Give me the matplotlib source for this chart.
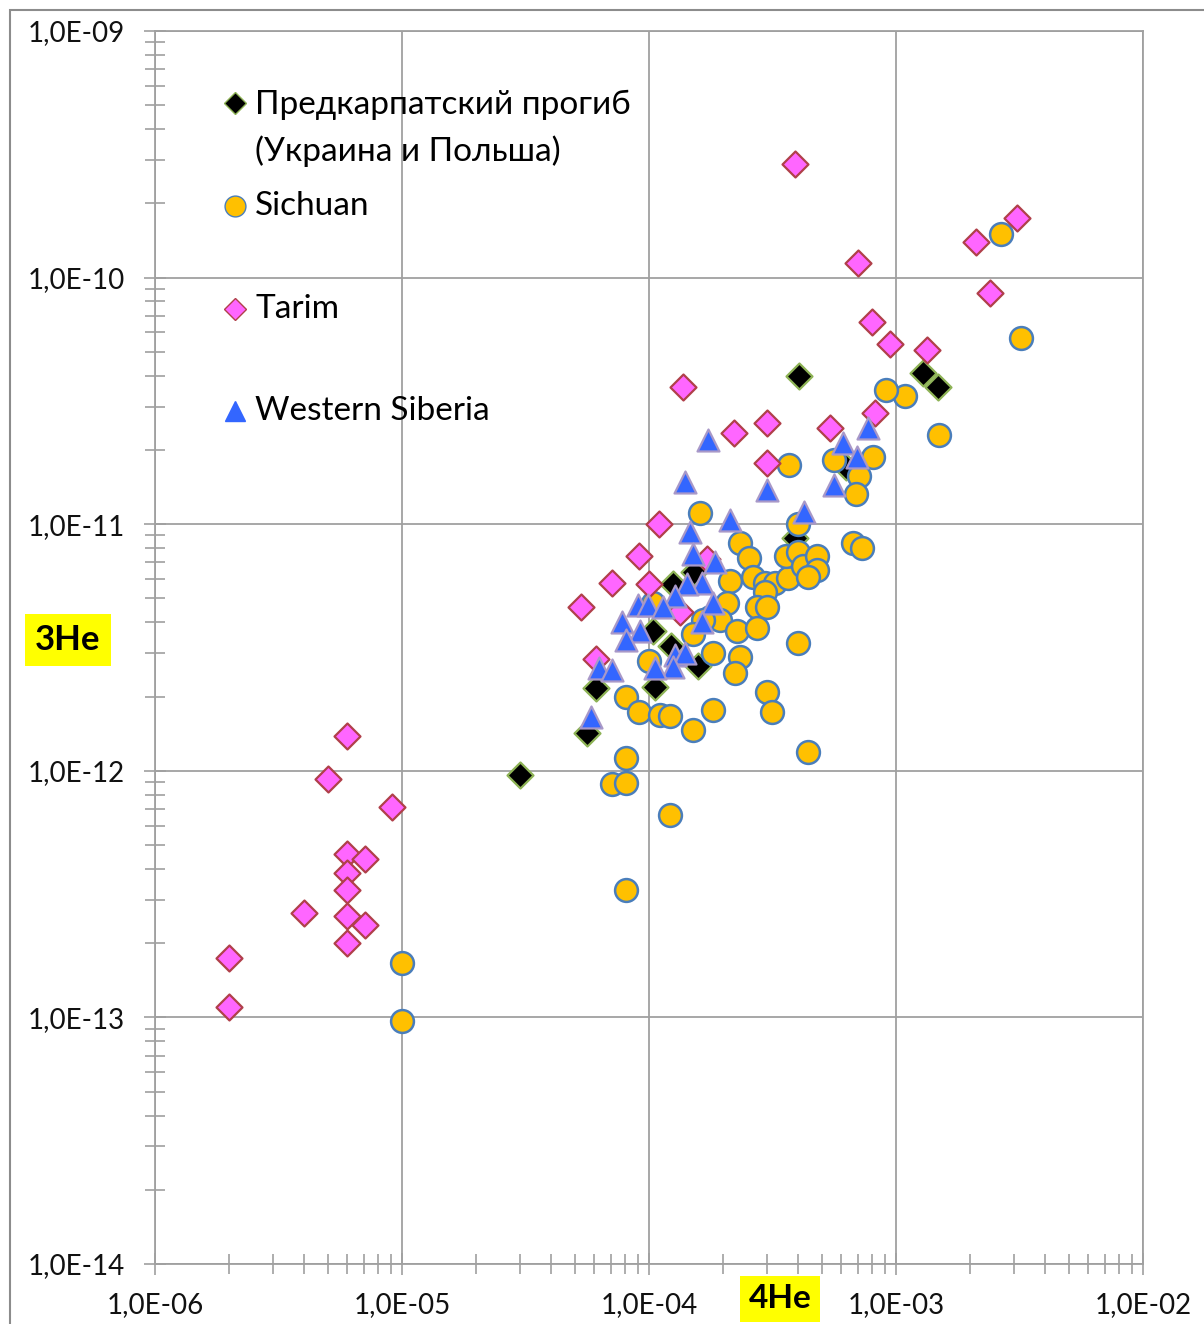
import matplotlib
matplotlib.use("Agg")
import matplotlib.pyplot as plt
from matplotlib.ticker import FixedLocator, FuncFormatter, NullFormatter
from matplotlib.patches import Rectangle
import numpy as np

plt.rcParams['font.family'] = ['Lato', 'DejaVu Sans']

# ---- data: 4He (x) and 3He (y) concentrations ----
carp_he4 = [4.05e-4, 1.29e-3, 1.48e-3, 6.3e-4, 3.9e-4, 1.52e-4, 1.25e-4, 1.04e-4,
            1.23e-4, 1.58e-4, 6.1e-5, 1.06e-4, 5.6e-5, 3.0e-5]
carp_he3 = [4.0e-11, 4.1e-11, 3.6e-11, 1.71e-11, 8.8e-12, 6.4e-12, 5.7e-12, 3.7e-12,
            3.2e-12, 2.66e-12, 2.17e-12, 2.19e-12, 1.42e-12, 9.6e-13]

sichuan_he4 = [2.66e-3, 3.2e-3, 1.09e-3, 9.1e-4, 1.5e-3, 8.1e-4, 7.1e-4, 6.9e-4,
               5.6e-4, 3.7e-4, 1.61e-4, 4.0e-4, 6.7e-4, 7.3e-4, 2.34e-4, 2.54e-4,
               2.13e-4, 2.64e-4, 2.95e-4, 3.24e-4, 3.65e-4, 3.6e-4, 4.0e-4, 4.2e-4,
               4.8e-4, 4.8e-4, 4.4e-4, 2.95e-4, 2.07e-4, 2.74e-4, 3.0e-4, 1.77e-4,
               1.94e-4, 1.65e-4, 2.27e-4, 2.74e-4, 1.51e-4, 1.82e-4, 2.34e-4, 2.23e-4,
               4.0e-4, 1.0e-4, 1.04e-4, 8.1e-5, 9.1e-5, 1.11e-4, 1.22e-4, 1.82e-4,
               1.51e-4, 3.0e-4, 3.15e-4, 4.4e-4, 8.1e-5, 7.1e-5, 8.1e-5, 1.22e-4,
               8.1e-5, 1.0e-5, 1.0e-5]
sichuan_he3 = [1.5e-10, 5.7e-11, 3.3e-11, 3.5e-11, 2.3e-11, 1.87e-11, 1.57e-11, 1.33e-11,
               1.82e-11, 1.74e-11, 1.11e-11, 1.0e-11, 8.4e-12, 8.0e-12, 8.4e-12, 7.3e-12,
               5.9e-12, 6.1e-12, 5.8e-12, 5.8e-12, 6.05e-12, 7.4e-12, 7.7e-12, 6.8e-12,
               7.4e-12, 6.5e-12, 6.1e-12, 5.3e-12, 4.8e-12, 4.6e-12, 4.6e-12, 4.2e-12,
               4.1e-12, 4.1e-12, 3.7e-12, 3.8e-12, 3.6e-12, 3.0e-12, 2.9e-12, 2.5e-12,
               3.3e-12, 2.8e-12, 4.8e-12, 2.0e-12, 1.73e-12, 1.68e-12, 1.67e-12, 1.76e-12,
               1.46e-12, 2.09e-12, 1.73e-12, 1.19e-12, 1.13e-12, 8.8e-13, 8.9e-13, 6.6e-13,
               3.3e-13, 1.66e-13, 9.7e-14]

tarim_he4 = [3.9e-4, 7.0e-4, 2.1e-3, 3.1e-3, 2.4e-3, 8.0e-4, 9.5e-4, 1.34e-3,
             1.37e-4, 2.2e-4, 3.0e-4, 5.4e-4, 8.2e-4, 3.0e-4, 1.1e-4, 9.1e-5,
             7.1e-5, 5.3e-5, 1.0e-4, 6.1e-5, 1.72e-4, 1.34e-4, 6.0e-6, 5.0e-6,
             9.1e-6, 6.0e-6, 7.1e-6, 6.0e-6, 6.0e-6, 4.0e-6, 6.0e-6, 7.1e-6,
             6.0e-6, 2.0e-6, 2.0e-6]
tarim_he3 = [2.9e-10, 1.15e-10, 1.4e-10, 1.75e-10, 8.7e-11, 6.6e-11, 5.4e-11, 5.1e-11,
             3.6e-11, 2.34e-11, 2.57e-11, 2.45e-11, 2.82e-11, 1.77e-11, 1.0e-11, 7.4e-12,
             5.8e-12, 4.6e-12, 5.7e-12, 2.84e-12, 7.2e-12, 4.4e-12, 1.38e-12, 9.3e-13,
             7.1e-13, 4.6e-13, 4.4e-13, 3.85e-13, 3.3e-13, 2.65e-13, 2.58e-13, 2.37e-13,
             2.0e-13, 1.74e-13, 1.1e-13]

wsib_he4 = [1.73e-4, 1.4e-4, 3.0e-4, 2.13e-4, 1.47e-4, 6.1e-4, 7.7e-4, 6.95e-4,
            5.6e-4, 4.25e-4, 1.51e-4, 1.85e-4, 1.64e-4, 1.43e-4, 1.82e-4, 1.27e-4,
            9.0e-5, 9.9e-5, 1.14e-4, 7.8e-5, 9.2e-5, 8.1e-5, 1.64e-4, 1.27e-4,
            1.4e-4, 1.25e-4, 1.06e-4, 6.3e-5, 7.1e-5, 5.8e-5]
wsib_he3 = [2.2e-11, 1.48e-11, 1.38e-11, 1.04e-11, 9.3e-12, 2.13e-11, 2.45e-11, 1.87e-11,
            1.44e-11, 1.12e-11, 7.6e-12, 7.0e-12, 5.8e-12, 5.7e-12, 4.8e-12, 5.1e-12,
            4.7e-12, 4.7e-12, 4.6e-12, 4.0e-12, 3.7e-12, 3.4e-12, 4.0e-12, 2.95e-12,
            3.0e-12, 2.64e-12, 2.6e-12, 2.6e-12, 2.56e-12, 1.65e-12]

series_labels = ["Предкарпатский прогиб\n(Украина и Польша)", "Sichuan", "Tarim",
                 "Western Siberia"]
x_title = "4He"
y_title = "3He"
x_decades = [-6, -5, -4, -3, -2]
y_decades = [-14, -13, -12, -11, -10, -9]

W, H = 1204, 1324
fig = plt.figure(figsize=(W / 100, H / 100), dpi=100)
ax = fig.add_axes([155 / W, 1 - 1264 / H, (1143 - 155) / W, (1264 - 31) / H])

grid_c = "#A0A0A0"
ax.set_xscale("log")
ax.set_yscale("log")
ax.set_xlim(10.0 ** x_decades[0], 10.0 ** x_decades[-1])
ax.set_ylim(10.0 ** y_decades[0], 10.0 ** y_decades[-1])

styles = [
    dict(marker="D", s=175, c="black", edgecolors="#8DB255", linewidths=1.6),
    dict(marker="o", s=270, c="#FFC000", edgecolors="#4A7EBB", linewidths=1.8),
    dict(marker="D", s=175, c="#FF66FF", edgecolors="#B0404A", linewidths=1.6),
    dict(marker="^", s=250, c="#3366FF", edgecolors="#A898C8", linewidths=1.6),
]
data = [(carp_he4, carp_he3), (sichuan_he4, sichuan_he3),
        (tarim_he4, tarim_he3), (wsib_he4, wsib_he3)]
for z, ((xs, ys), st) in enumerate(zip(data, styles)):
    ax.scatter(xs, ys, zorder=3 + z, clip_on=False, **st)

# axes, grid and Excel-style crossing ticks
for sp in ax.spines.values():
    sp.set_color(grid_c)
    sp.set_linewidth(1.3)
ax.grid(True, which="major", color=grid_c, linewidth=1.3)
ax.set_axisbelow(True)

def sci_label(v, pos):
    e = int(round(np.log10(v)))
    return "1,0E%s%02d" % ("-" if e < 0 else "+", abs(e))

ax.xaxis.set_major_locator(FixedLocator([10.0 ** e for e in x_decades]))
ax.yaxis.set_major_locator(FixedLocator([10.0 ** e for e in y_decades]))
minors_x = [m * 10.0 ** e for e in x_decades[:-1] for m in range(2, 10)]
minors_y = [m * 10.0 ** e for e in y_decades[:-1] for m in range(2, 10)]
ax.xaxis.set_minor_locator(FixedLocator(minors_x))
ax.yaxis.set_minor_locator(FixedLocator(minors_y))
ax.xaxis.set_major_formatter(FuncFormatter(sci_label))
ax.yaxis.set_major_formatter(FuncFormatter(sci_label))
ax.xaxis.set_minor_formatter(NullFormatter())
ax.yaxis.set_minor_formatter(NullFormatter())
ax.tick_params(which="both", direction="inout", color=grid_c, width=1.2,
               top=False, right=False)
ax.tick_params(which="major", length=16, labelsize=20, labelcolor="#111111")
ax.tick_params(which="minor", length=14)
ax.tick_params(axis="y", which="major", pad=14)
ax.tick_params(axis="x", which="major", pad=12)

# axis titles on yellow boxes
fig.text(68 / W, 1 - 640 / H, y_title, ha="center", va="center", fontsize=25,
         fontweight="bold", bbox=dict(boxstyle="square,pad=0.3", fc="#FFFF00", ec="none"))
fig.text(780 / W, 1 - 1299 / H, x_title, ha="center", va="center", fontsize=24,
         fontweight="bold", bbox=dict(boxstyle="square,pad=0.25", fc="#FFFF00", ec="none"))

# legend drawn inside the plot area
leg_rows = [103, 206, 309, 411]
leg_styles = [("D", 11, "black", "#8DB255"), ("o", 15, "#FFC000", "#4A7EBB"),
              ("D", 11, "#FF66FF", "#B0404A"), ("^", 15, "#3366FF", "#3366FF")]
for row, lab, (mk, ms, fc, ec) in zip(leg_rows, series_labels, leg_styles):
    fy = 1 - row / H
    fig.lines.append(plt.Line2D([235 / W], [fy], marker=mk, markersize=ms, color=fc,
                                markeredgecolor=ec, markeredgewidth=1.0,
                                transform=fig.transFigure))
    if "\n" in lab:
        fig.text(255 / W, fy + 13 / H, lab, ha="left", va="top", fontsize=24,
                 linespacing=1.58)
    else:
        fig.text(255 / W, fy, lab, ha="left", va="center", fontsize=24)

# outer chart border
fig.patches.append(Rectangle((10 / W, -0.1), 1.2, 1.1 - 10 / H, transform=fig.transFigure,
                             fill=False, ec="#8C8C8C", lw=1.5))

fig.savefig("out.png", dpi=100)
